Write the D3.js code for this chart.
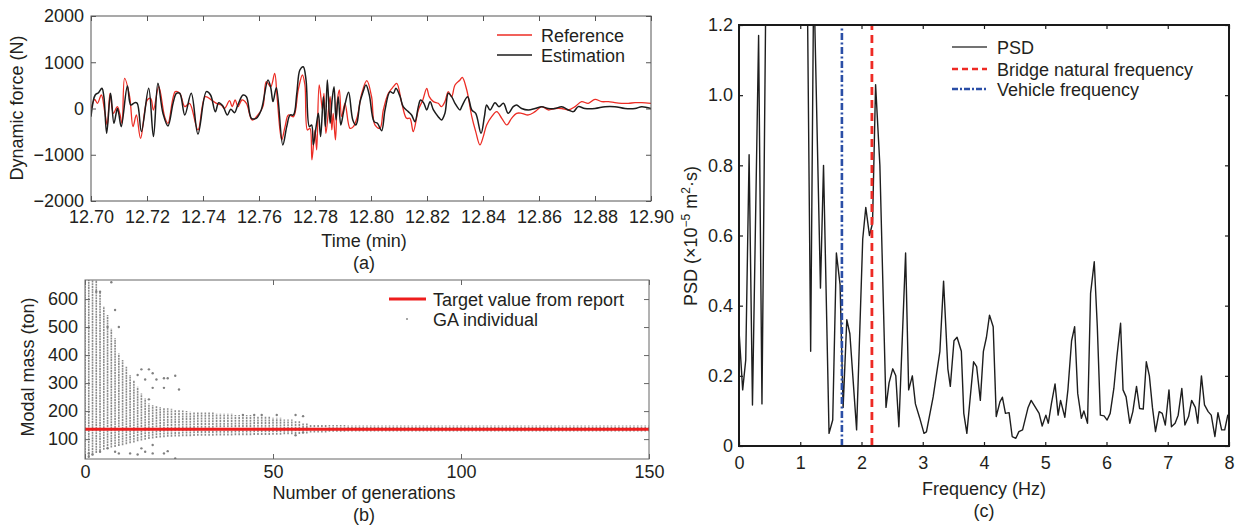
<!DOCTYPE html>
<html>
<head>
<meta charset="utf-8">
<script src="https://cdn.jsdelivr.net/npm/d3@7"></script>
<style>
  body { margin: 0; background: #fff; }
  text { font-family: "Liberation Sans", Arial, sans-serif; fill: #231f20; }
</style>
</head>
<body>
<div id="chart"></div>
<script>
// ---- (a) dynamic force, [time (min), force (N)]
const reference = [
  [12.7000,-32],[12.7013,198],[12.7023,112],[12.7037,292],[12.7049,-68],[12.7058,-356],[12.7068,328],[12.7080,-104],
  [12.7094,40],[12.7104,-140],[12.7111,-320],[12.7120,652],[12.7138,256],[12.7150,-392],[12.7162,-140],[12.7177,-644],
  [12.7201,184],[12.7213,220],[12.7223,-32],[12.7242,472],[12.7263,-176],[12.7275,-320],[12.7301,364],[12.7317,328],
  [12.7335,40],[12.7352,112],[12.7382,-464],[12.7408,256],[12.7430,184],[12.7448,112],[12.7465,76],[12.7477,0],
  [12.7495,169],[12.7504,40],[12.7515,184],[12.7525,40],[12.7539,184],[12.7555,112],[12.7575,-248],[12.7596,-140],
  [12.7614,40],[12.7626,580],[12.7642,472],[12.7656,760],[12.7665,220],[12.7681,-680],[12.7693,-392],[12.7705,-140],
  [12.7723,-176],[12.7740,400],[12.7755,724],[12.7764,508],[12.7773,-464],[12.7782,-428],[12.7789,-1112],[12.7800,-464],
  [12.7806,-896],[12.7815,508],[12.7827,-32],[12.7832,328],[12.7839,-536],[12.7854,256],[12.7860,-464],[12.7865,-104],
  [12.7873,-680],[12.7880,184],[12.7887,400],[12.7895,-176],[12.7907,112],[12.7925,-428],[12.7937,-392],[12.7951,-176],
  [12.7967,328],[12.7985,601],[12.8002,256],[12.8014,-356],[12.8032,-428],[12.8044,-32],[12.8062,328],[12.8080,472],
  [12.8092,544],[12.8110,112],[12.8127,-212],[12.8139,-212],[12.8151,-500],[12.8169,-32],[12.8185,184],[12.8199,436],
  [12.8208,256],[12.8223,148],[12.8240,112],[12.8252,40],[12.8264,148],[12.8276,364],[12.8288,256],[12.8300,508],
  [12.8318,616],[12.8326,673],[12.8342,400],[12.8360,-176],[12.8374,-500],[12.8389,-788],[12.8401,-608],[12.8413,-356],
  [12.8431,-176],[12.8449,-68],[12.8467,-212],[12.8485,-356],[12.8502,-212],[12.8520,-104],[12.8538,-104],[12.8562,-140],
  [12.8586,-68],[12.8610,40],[12.8633,-32],[12.8657,0],[12.8681,0],[12.8705,-32],[12.8729,40],[12.8752,148],
  [12.8776,112],[12.8800,198],[12.8824,148],[12.8848,148],[12.8871,126],[12.8895,112],[12.8919,112],[12.8943,126],
  [12.8967,126],[12.9000,112]
];
const estimation = [
  [12.7000,-176],[12.7015,292],[12.7027,342],[12.7039,436],[12.7046,256],[12.7056,-536],[12.7070,328],[12.7082,-320],
  [12.7094,0],[12.7099,-104],[12.7108,-392],[12.7130,486],[12.7142,76],[12.7156,126],[12.7165,112],[12.7180,-500],
  [12.7206,436],[12.7223,-608],[12.7239,544],[12.7257,-104],[12.7275,-378],[12.7293,112],[12.7305,328],[12.7317,328],
  [12.7335,-140],[12.7358,328],[12.7382,-551],[12.7412,364],[12.7427,292],[12.7444,-68],[12.7456,126],[12.7471,54],
  [12.7487,-140],[12.7499,-18],[12.7513,-90],[12.7523,54],[12.7543,292],[12.7555,256],[12.7573,-212],[12.7590,-212],
  [12.7608,-32],[12.7632,616],[12.7642,450],[12.7650,150],[12.7662,450],[12.7685,-788],[12.7699,-392],[12.7711,-140],
  [12.7723,-140],[12.7735,328],[12.7746,832],[12.7758,904],[12.7768,616],[12.7780,-392],[12.7788,-356],[12.7794,-788],
  [12.7804,-392],[12.7812,-104],[12.7820,-608],[12.7830,256],[12.7837,-392],[12.7844,616],[12.7854,-320],[12.7861,184],
  [12.7868,472],[12.7875,-248],[12.7883,256],[12.7892,-356],[12.7901,-104],[12.7908,112],[12.7920,349],[12.7935,-248],
  [12.7946,-356],[12.7951,-284],[12.7961,148],[12.7970,328],[12.7982,508],[12.7994,292],[12.8011,-284],[12.8023,-320],
  [12.8038,-479],[12.8050,-32],[12.8068,364],[12.8080,328],[12.8089,436],[12.8104,256],[12.8115,40],[12.8133,-68],
  [12.8145,-140],[12.8157,-284],[12.8169,40],[12.8177,184],[12.8189,112],[12.8199,-32],[12.8211,148],[12.8223,-32],
  [12.8240,-176],[12.8252,-248],[12.8264,-104],[12.8276,328],[12.8288,256],[12.8300,112],[12.8318,-32],[12.8324,40],
  [12.8345,256],[12.8360,-32],[12.8374,-104],[12.8393,-536],[12.8405,-176],[12.8413,76],[12.8425,-32],[12.8443,126],
  [12.8457,40],[12.8473,112],[12.8490,-104],[12.8508,40],[12.8520,76],[12.8538,0],[12.8562,-32],[12.8586,0],
  [12.8610,40],[12.8633,0],[12.8657,0],[12.8681,40],[12.8705,-32],[12.8723,-68],[12.8740,40],[12.8764,0],
  [12.8800,0],[12.8836,40],[12.8871,40],[12.8907,0],[12.8943,0],[12.8967,40],[12.9000,0]
];
const timeTicks = [12.70,12.72,12.74,12.76,12.78,12.80,12.82,12.84,12.86,12.88,12.90];
const forceTicks = [-2000,-1000,0,1000,2000];

// ---- (b) GA individuals: [first gen, last gen, top of spread (ton), bottom of spread (ton)]
const genBands = [
  [0,0,700,32],[1,1,700,38],[2,2,700,42],[3,3,690,50],[4,4,626,58],[5,5,573,62],[6,6,543,66],[7,7,495,70],
  [8,8,460,72],[9,9,406,75],[10,10,382,78],[11,11,358,82],[12,12,329,85],[13,13,311,88],[14,14,287,92],
  [15,15,263,95],[16,16,245,98],[17,17,227,100],[18,18,221,102],[19,19,218,104],[20,20,215,106],[21,21,212,107],
  [22,22,210,108],[23,23,208,108],[24,24,206,109],[25,25,204,109],[26,26,202,110],[27,27,200,110],[28,28,198,110],
  [29,29,197,111],[30,34,195,112],[35,39,191,113],[40,44,186,114],[45,49,181,115],[50,52,176,116],[53,55,170,117],
  [56,57,164,118],[58,59,157,120],[60,64,152,124],[65,69,150,126],[70,150,149,127]
];
// stray individuals [gen, ton]
const gaOutliers = [
  [3,626],[4,626],[7,660],[8,561],[9,500],[6,500],[14,329],[15,349],[16,313],[17,242],[17,349],[18,335],[18,283],
  [19,313],[21,317],[21,283],[22,317],[24,326],[25,277],[42,186],[45,186],[47,186],[51,186],[56,186],[58,182],
  [56,114],[58,124],[1,49],[1,37],[2,45],[4,55],[6,67],[8,55],[9,49],[12,49],[14,45],[15,67],[16,55],[18,49],
  [18,79],[21,49],[22,57],[24,31]
];
const targetMass = 135;
const genTicks = [0,50,100,150];
const massTicks = [100,200,300,400,500,600];

// ---- (c) PSD, [frequency (Hz), PSD (1e-5 m^2 s)]
const psd = [
  [0.00,0.33],[0.06,0.16],[0.11,0.245],[0.165,0.83],[0.22,0.117],[0.32,1.17],[0.375,0.12],[0.46,1.7],[0.6,2.4],
  [0.8,2.8],[1.0,2.2],[1.10,1.6],[1.17,0.27],[1.22,1.35],[1.33,0.45],[1.38,0.80],[1.47,0.036],[1.53,0.074],
  [1.59,0.55],[1.65,0.46],[1.70,0.11],[1.76,0.36],[1.81,0.32],[1.92,0.046],[2.02,0.59],[2.07,0.68],[2.13,0.60],
  [2.18,0.635],[2.23,1.03],[2.30,0.80],[2.40,0.11],[2.45,0.18],[2.51,0.22],[2.56,0.20],[2.61,0.055],[2.72,0.55],
  [2.77,0.16],[2.83,0.20],[2.88,0.12],[2.95,0.08],[3.02,0.036],[3.06,0.04],[3.17,0.14],[3.28,0.27],[3.34,0.47],
  [3.41,0.22],[3.45,0.17],[3.51,0.30],[3.56,0.31],[3.63,0.27],[3.67,0.093],[3.72,0.036],[3.83,0.24],[3.88,0.226],
  [3.94,0.13],[3.99,0.27],[4.04,0.31],[4.09,0.373],[4.15,0.34],[4.20,0.084],[4.26,0.126],[4.30,0.139],[4.35,0.093],
  [4.41,0.095],[4.46,0.027],[4.52,0.022],[4.57,0.041],[4.63,0.046],[4.72,0.11],[4.77,0.13],[4.84,0.11],[4.90,0.093],
  [4.95,0.057],[5.01,0.088],[5.05,0.065],[5.10,0.12],[5.16,0.177],[5.21,0.088],[5.25,0.13],[5.32,0.082],[5.37,0.16],
  [5.43,0.30],[5.48,0.34],[5.53,0.15],[5.59,0.079],[5.63,0.10],[5.69,0.065],[5.74,0.435],[5.80,0.525],[5.85,0.34],
  [5.90,0.088],[5.96,0.086],[6.01,0.074],[6.06,0.093],[6.12,0.164],[6.17,0.255],[6.23,0.35],[6.27,0.16],[6.32,0.14],
  [6.38,0.065],[6.43,0.098],[6.49,0.17],[6.54,0.107],[6.60,0.105],[6.65,0.24],[6.70,0.20],[6.75,0.11],[6.80,0.041],
  [6.86,0.098],[6.91,0.093],[6.96,0.060],[7.02,0.16],[7.06,0.055],[7.12,0.065],[7.17,0.088],[7.23,0.164],[7.28,0.060],
  [7.34,0.084],[7.39,0.13],[7.45,0.11],[7.49,0.065],[7.55,0.20],[7.60,0.117],[7.66,0.098],[7.71,0.088],[7.77,0.027],
  [7.82,0.095],[7.88,0.046],[7.93,0.046],[7.98,0.088],[8.00,0.084]
];
const bridgeFreq = 2.17;
const vehicleFreq = 1.68;
const freqTicks = [0,1,2,3,4,5,6,7,8];
const psdTicks = [0,0.2,0.4,0.6,0.8,1.0,1.2];

const svg = d3.select('#chart').append('svg')
    .attr('width', 1239)
    .attr('height', 526);
svg.append('rect').attr('width', 1239).attr('height', 526).attr('fill', '#fff');

// clip a plotting area to its scales
function clipFor(id, x, y) {
    const [xl, xr] = x.range(), [yb, yt] = y.range();
    svg.append('clipPath').attr('id', id)
        .append('rect').attr('x', xl).attr('y', yt).attr('width', xr - xl).attr('height', yb - yt);
    return svg.append('g').attr('clip-path', `url(#${id})`);
}

// box with inward ticks on all four sides, labels on bottom and left
function drawAxes(x, y, o) {
    const [xl, xr] = x.range(), [yb, yt] = y.range();
    const g = svg.append('g');
    const axes = [
        g.append('g').attr('transform', `translate(0,${yb})`)
            .call(d3.axisBottom(x).tickValues(o.xTicks).tickFormat(o.xFmt)
                .tickSizeInner(-o.tick).tickSizeOuter(0).tickPadding(o.xPad)),
        g.append('g').attr('transform', `translate(0,${yt})`)
            .call(d3.axisTop(x).tickValues(o.xTicks).tickFormat(() => '')
                .tickSizeInner(-o.tick).tickSizeOuter(0)),
        g.append('g').attr('transform', `translate(${xl},0)`)
            .call(d3.axisLeft(y).tickValues(o.yTicks).tickFormat(o.yFmt)
                .tickSizeInner(-o.tick).tickSizeOuter(0).tickPadding(o.yPad)),
        g.append('g').attr('transform', `translate(${xr},0)`)
            .call(d3.axisRight(y).tickValues(o.yTicks).tickFormat(() => '')
                .tickSizeInner(-o.tick).tickSizeOuter(0))
    ];
    axes.forEach(a => {
        a.select('.domain').remove();
        a.attr('color', o.color).attr('font-size', o.fontSize);
        a.selectAll('line').attr('stroke-width', o.tickWidth);
        a.selectAll('text').attr('fill', '#231f20');
    });
    g.append('rect')
        .attr('x', xl).attr('y', yt)
        .attr('width', xr - xl).attr('height', yb - yt)
        .attr('fill', 'none')
        .attr('stroke', o.color)
        .attr('stroke-width', o.frameWidth);
}

function label(x, y, txt, size, rotate) {
    return svg.append('text')
        .attr('transform', `translate(${x},${y})` + (rotate ? ' rotate(-90)' : ''))
        .attr('text-anchor', 'middle')
        .attr('font-size', size)
        .text(txt);
}

// ================= (a)
const ax = d3.scaleLinear().domain([12.70, 12.90]).range([91, 651]);
const ay = d3.scaleLinear().domain([-2000, 2000]).range([201, 16]);
const plotA = clipFor('clipA', ax, ay);
const lineA = d3.line()
    .x(d => ax(d[0]))
    .y(d => ay(d[1]))
    .curve(d3.curveCatmullRom.alpha(0.5));

plotA.append('path').datum(reference)
    .attr('d', lineA).attr('fill', 'none')
    .attr('stroke', '#ec2c24').attr('stroke-width', 1.3);
plotA.append('path').datum(estimation)
    .attr('d', lineA).attr('fill', 'none')
    .attr('stroke', '#1c1c1c').attr('stroke-width', 1.5);

drawAxes(ax, ay, {
    xTicks: timeTicks, yTicks: forceTicks,
    xFmt: d3.format('.2f'), yFmt: d3.format('d'),
    tick: 5, xPad: 9, yPad: 7, color: '#555', fontSize: 18, tickWidth: 1, frameWidth: 1
});

const legA = [['Reference', '#ec2c24', 35], ['Estimation', '#1c1c1c', 55]];
legA.forEach(([name, col, yy]) => {
    svg.append('line').attr('x1', 497).attr('x2', 532).attr('y1', yy).attr('y2', yy)
        .attr('stroke', col).attr('stroke-width', 1.4);
    svg.append('text').attr('x', 541).attr('y', yy + 6.5).attr('font-size', 18).text(name);
});

label(23, 108, 'Dynamic force (N)', 18, true);
label(364, 247, 'Time (min)', 18);
label(364, 269, '(a)', 18);

// ================= (b)
const bx = d3.scaleLinear().domain([0, 150]).range([85, 649]);
const by = d3.scaleLinear().domain([29, 668]).range([459, 280]);
const plotB = clipFor('clipB', bx, by);

genBands.forEach(([g0, g1, top, bottom]) => {
    d3.range(g0, g1 + 1).forEach(gen => {
        plotB.append('line')
            .attr('x1', bx(gen)).attr('x2', bx(gen))
            .attr('y1', by(bottom)).attr('y2', by(top))
            .attr('stroke', '#8c8c8c')
            .attr('stroke-width', 1.6)
            .attr('stroke-dasharray', '2,0.7');
    });
});

plotB.selectAll('circle.ga')
    .data(gaOutliers)
    .enter()
    .append('circle')
        .attr('class', 'ga')
        .attr('cx', d => bx(d[0]))
        .attr('cy', d => by(d[1]))
        .attr('r', 1.2)
        .attr('fill', '#808080');

plotB.append('line')
    .attr('x1', bx(0)).attr('x2', bx(150))
    .attr('y1', by(targetMass)).attr('y2', by(targetMass))
    .attr('stroke', '#ee1d1d').attr('stroke-width', 3);

drawAxes(bx, by, {
    xTicks: genTicks, yTicks: massTicks,
    xFmt: d3.format('d'), yFmt: d3.format('d'),
    tick: 5, xPad: 6, yPad: 7, color: '#666', fontSize: 18, tickWidth: 1, frameWidth: 1
});

svg.append('line').attr('x1', 389).attr('x2', 426).attr('y1', 299).attr('y2', 299)
    .attr('stroke', '#ee1d1d').attr('stroke-width', 3);
svg.append('text').attr('x', 433).attr('y', 305.5).attr('font-size', 18).text('Target value from report');
svg.append('circle').attr('cx', 407).attr('cy', 319).attr('r', 1).attr('fill', '#8a8a8a');
svg.append('text').attr('x', 433).attr('y', 325.5).attr('font-size', 18).text('GA individual');

label(34, 367, 'Modal mass (ton)', 18, true);
label(364, 499, 'Number of generations', 18);
label(364, 521, '(b)', 18);

// ================= (c)
const cx = d3.scaleLinear().domain([0, 8]).range([739, 1229]);
const cy = d3.scaleLinear().domain([0, 1.2]).range([446, 25]);
const plotC = clipFor('clipC', cx, cy);

plotC.append('path').datum(psd)
    .attr('d', d3.line().x(d => cx(d[0])).y(d => cy(d[1])))
    .attr('fill', 'none')
    .attr('stroke', '#1e1e1e')
    .attr('stroke-width', 1.4)
    .attr('stroke-linejoin', 'round');

plotC.append('line')
    .attr('x1', cx(vehicleFreq)).attr('x2', cx(vehicleFreq))
    .attr('y1', cy(0)).attr('y2', cy(1.2))
    .attr('stroke', '#2a4ea6').attr('stroke-width', 2.6)
    .attr('stroke-dasharray', '7,2.5,2,2.5');
plotC.append('line')
    .attr('x1', cx(bridgeFreq)).attr('x2', cx(bridgeFreq))
    .attr('y1', cy(0)).attr('y2', cy(1.2))
    .attr('stroke', '#ee2a24').attr('stroke-width', 2.8)
    .attr('stroke-dasharray', '8,5');

drawAxes(cx, cy, {
    xTicks: freqTicks, yTicks: psdTicks,
    xFmt: d3.format('d'), yFmt: d => d === 0 ? '0' : d3.format('.1f')(d),
    tick: 4, xPad: 10, yPad: 6, color: '#1a1a1a', fontSize: 18, tickWidth: 1.2, frameWidth: 2
});

const legC = [
    ['PSD', '#444', 47, null, 1.4],
    ['Bridge natural frequency', '#ee2a24', 69, '6,4', 2.6],
    ['Vehicle frequency', '#2a4ea6', 89, '6,2,2,2', 2.6]
];
legC.forEach(([name, col, yy, dash, w]) => {
    svg.append('line').attr('x1', 952).attr('x2', 987).attr('y1', yy).attr('y2', yy)
        .attr('stroke', col).attr('stroke-width', w)
        .attr('stroke-dasharray', dash);
    svg.append('text').attr('x', 997).attr('y', yy + 6.5).attr('font-size', 18).text(name);
});

const psdLabel = svg.append('text')
    .attr('transform', 'translate(697,236) rotate(-90)')
    .attr('text-anchor', 'middle')
    .attr('font-size', 18);
psdLabel.append('tspan').text('PSD (\u00d710');
psdLabel.append('tspan').attr('font-size', 12).attr('dy', -7).text('\u22125');
psdLabel.append('tspan').attr('dy', 7).text(' m');
psdLabel.append('tspan').attr('font-size', 12).attr('dy', -7).text('2');
psdLabel.append('tspan').attr('dy', 7).text('\u00b7s)');

label(984, 495, 'Frequency (Hz)', 18);
label(984, 517, '(c)', 18);
</script>
</body>
</html>
